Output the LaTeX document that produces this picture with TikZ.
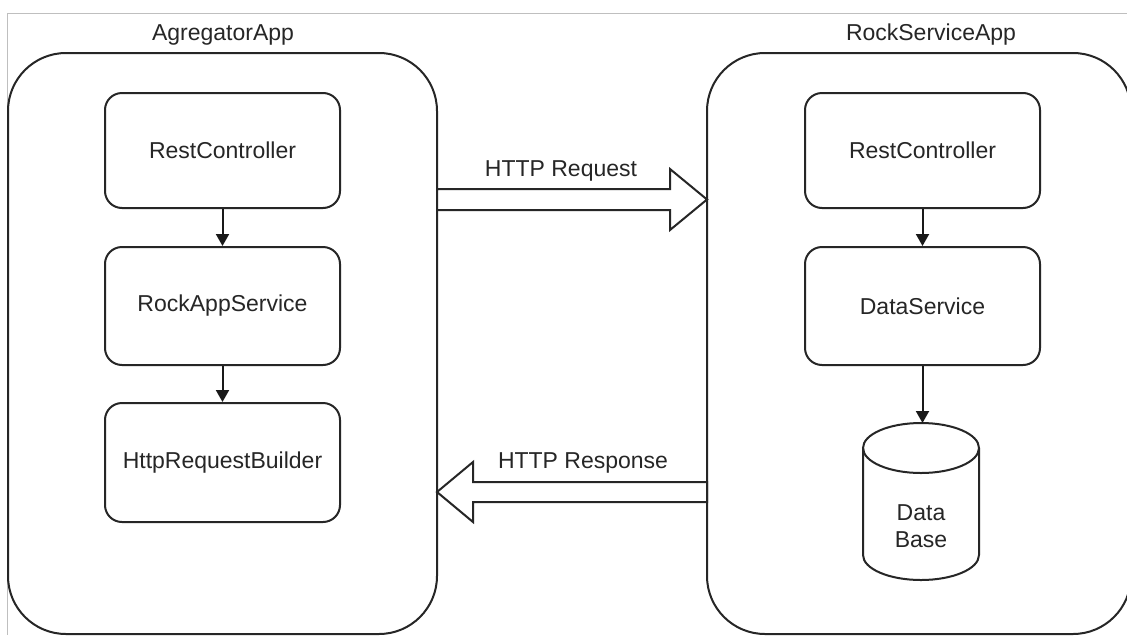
\documentclass[tikz,border=0pt]{standalone}
\usepackage{fontspec}
\setmainfont{Liberation Sans}
\usetikzlibrary{arrows.meta}
\begin{document}
\begin{tikzpicture}[x=1pt,y=-1pt,
  txt/.style={font=\fontsize{23}{27}\selectfont, text=black!85, inner sep=0pt},
  box/.style={txt, draw=black!85, line width=2pt, rounded corners=17pt, minimum width=235pt},
  cont/.style={draw=black!85, line width=2pt, rounded corners=58pt, inner sep=0pt},
  flow/.style={draw=black!90, line width=2pt, -{Triangle[length=12pt,width=13pt]}},
  blk/.style={draw=black!85, line width=2pt, fill=white, line join=miter},
  frame/.style={draw=black!25, line width=1pt}
]
\useasboundingbox (0,0) rectangle (1127,635);
\clip (0,0) rectangle (1127,635);
\fill[white] (0,0) rectangle (1127,635);
% screenshot frame
\draw[frame] (1127,13) -- (7,13) -- (7,635);
% containers
\node[cont, minimum width=429pt, minimum height=581pt] (agg) at (222.5,343.5) {};
\node[cont, minimum width=424pt, minimum height=581pt] (rock) at (919,343.5) {};
\node[txt] (aggt) at (223,35) {AgregatorApp};
\node[txt] (rockt) at (931,35) {RockServiceApp};
% left column
\node[box, minimum height=115pt] (rc1) at (222.5,150.5) {RestController};
\node[box, minimum height=118pt] (ras) at (222.5,306) {RockAppService};
\node[box, minimum height=119pt] (hrb) at (222.5,462.5) {HttpRequestBuilder};
\draw[flow] (rc1) -- (ras);
\draw[flow] (ras) -- (hrb);
% right column
\node[box, minimum height=115pt] (rc2) at (922.5,150.5) {RestController};
\node[box, minimum height=118pt] (ds) at (922.5,306) {DataService};
\draw[flow] (rc2) -- (ds);
% database cylinder
\coordinate (dbtop) at (921,423);
\draw[draw=black!85, line width=2pt, fill=white] (863,448) -- (863,555) arc[start angle=180, end angle=360, x radius=58pt, y radius=25pt] -- (979,448);
\draw[draw=black!85, line width=2pt] (921,448) ellipse[x radius=58pt, y radius=25pt];
\node[txt, align=center] (db) at (921,526) {Data\\Base};
\draw[flow] (ds.south) -- (ds.south |- dbtop);
% block arrows
\draw[blk] (437,189) -- (670,189) -- (670,169) -- (707,199.5) -- (670,230) -- (670,210) -- (437,210) -- cycle;
\node[txt] (req) at (561,171) {HTTP Request};
\draw[blk] (707,482) -- (473,482) -- (473,462) -- (437,492) -- (473,522) -- (473,502) -- (707,502) -- cycle;
\node[txt] (resp) at (583,463) {HTTP Response};
\end{tikzpicture}
\end{document}
